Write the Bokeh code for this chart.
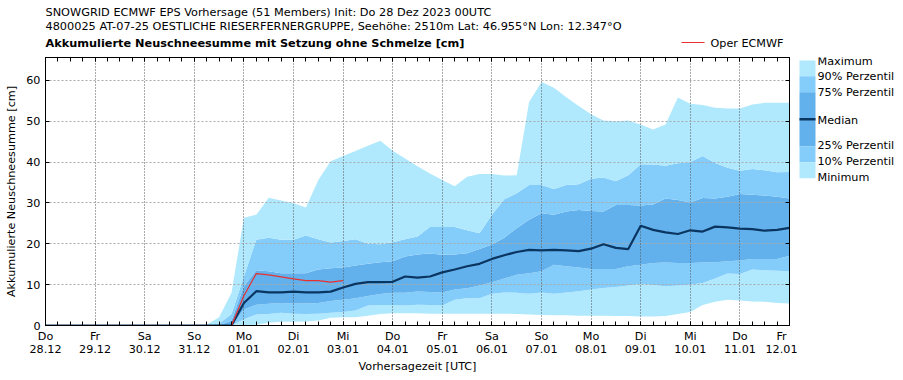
from bokeh.plotting import figure
from bokeh.layouts import column, row
from bokeh.models import (Range1d, FixedTicker, LinearAxis, Label, BoxAnnotation,
                          ColumnDataSource, CustomJSTickFormatter)
from bokeh.embed import file_html
from bokeh.resources import INLINE

# ---------------- data (6-hourly lead times, hours since 28.12. 00UTC) ----------------
hours = [6 * i for i in range(61)]

day_names = ["Do", "Fr", "Sa", "So", "Mo", "Di", "Mi", "Do", "Fr", "Sa", "So", "Mo", "Di", "Mi", "Do", "Fr"]
day_dates = ["28.12", "29.12", "30.12", "31.12", "01.01", "02.01", "03.01", "04.01",
             "05.01", "06.01", "07.01", "08.01", "09.01", "10.01", "11.01", "12.01"]
y_ticks = [0, 10, 20, 30, 40, 50, 60]

maximum = [0, 0, 0, 0,  0, 0, 0, 0,  0, 0, 0, 0,
           0, 0.2, 2.0, 8.0,
           26.4, 27.1, 31.3, 30.6,
           29.9, 28.9, 35.6, 40.2,
           41.5, 42.7, 44.0, 45.2,
           42.8, 40.9, 39.0, 37.2,
           35.6, 34.1, 36.4, 37.1,
           37.1, 36.7, 36.8, 54.7,
           59.6, 58.2, 55.9, 53.7,
           51.7, 50.2, 50.0, 50.2,
           49.2, 48.0, 49.2, 55.8,
           54.3, 54.0, 53.3, 53.1,
           53.1, 54.1, 54.5, 54.5,
           54.5]
p90 = [0, 0, 0, 0,  0, 0, 0, 0,  0, 0, 0, 0,
       0, 0, 0.5, 2.8,
       12.0, 21.0, 21.5, 21.0,
       21.0, 22.0, 21.1, 20.3,
       20.7, 21.1, 20.0, 19.9,
       20.4, 21.1, 21.8, 24.1,
       24.1, 24.1, 23.3, 22.6,
       27.1, 30.9, 32.4, 34.4,
       34.4, 33.4, 34.4, 34.6,
       35.9, 36.2, 35.3, 36.8,
       39.5, 39.4, 39.1, 39.7,
       40.0, 41.5, 39.8, 38.6,
       37.9, 38.3, 38.0, 37.5,
       37.6]
p75 = [0, 0, 0, 0,  0, 0, 0, 0,  0, 0, 0, 0,
       0, 0, 0, 1.2,
       9.6, 13.5, 13.3, 12.8,
       12.8, 12.8, 13.7, 14.0,
       14.2, 14.7, 15.1, 15.5,
       15.7, 16.9, 17.4, 17.6,
       17.3, 17.4, 17.7, 18.7,
       19.8, 21.5, 23.8, 25.9,
       27.5, 27.1, 27.9, 28.3,
       28.0, 27.9, 29.5, 29.5,
       29.4, 29.6, 31.1, 30.7,
       30.1, 31.2, 31.1, 31.5,
       32.2, 32.0, 31.8, 31.5,
       31.1]
median = [0, 0, 0, 0,  0, 0, 0, 0,  0, 0, 0, 0,
          0, 0, 0, 0,
          5.5, 8.4, 8.1, 8.1,
          8.3, 8.1, 8.1, 8.3,
          9.3, 10.2, 10.6, 10.6,
          10.7, 12.0, 11.7, 12.0,
          13.0, 13.7, 14.5, 15.1,
          16.3, 17.2, 18.0, 18.5,
          18.4, 18.5, 18.4, 18.2,
          18.8, 19.9, 19.0, 18.7,
          24.4, 23.4, 22.8, 22.4,
          23.3, 23.0, 24.2, 24.0,
          23.7, 23.6, 23.2, 23.4,
          23.9]
p25 = [0, 0, 0, 0,  0, 0, 0, 0,  0, 0, 0, 0,
       0, 0, 0, 0,
       3.9, 5.1, 5.3, 5.5,
       5.4, 5.4, 5.5, 6.0,
       6.3, 6.7, 7.2, 7.7,
       8.0, 8.0, 8.3, 8.2,
       8.1, 8.8, 9.1, 9.8,
       10.6, 11.5, 12.4, 12.8,
       13.3, 14.9, 14.5, 14.2,
       13.8, 13.8, 13.8, 14.5,
       14.9, 15.3, 15.4, 15.3,
       15.3, 15.4, 15.5, 15.7,
       15.9, 16.3, 16.3, 16.3,
       17.1]
p10 = [0, 0, 0, 0,  0, 0, 0, 0,  0, 0, 0, 0,
       0, 0, 0, 0,
       1.5, 2.7, 2.8, 3.1,
       2.9, 2.8, 2.9, 3.1,
       3.3, 3.7, 4.9, 5.0,
       5.0, 4.9, 5.1, 5.0,
       4.9, 6.3, 6.7, 6.7,
       7.8, 8.1, 8.0, 7.8,
       8.1, 7.8, 8.1, 8.4,
       8.8, 9.2, 9.4, 9.8,
       10.2, 9.9, 9.6, 9.8,
       10.0, 10.4, 11.5, 12.7,
       12.6, 13.7, 13.5, 13.4,
       13.3]
minimum = [0, 0, 0, 0,  0, 0, 0, 0,  0, 0, 0, 0,
           0, 0, 0, 0,
           0, 0.2, 0.7, 0.9,
           0.9, 1.0, 1.2, 1.9,
           2.0, 2.0, 2.4, 2.8,
           3.0, 3.0, 3.0, 2.9,
           2.9, 2.9, 2.9, 2.9,
           2.9, 2.9, 2.8, 2.7,
           2.6, 2.5, 2.5, 2.4,
           2.4, 2.4, 2.3, 2.3,
           2.2, 2.2, 2.3, 2.8,
           3.3, 5.0, 5.8, 6.3,
           6.1, 5.9, 5.8, 5.5,
           5.4]
oper_hours = hours[:25]
oper = [0, 0, 0, 0,  0, 0, 0, 0,  0, 0, 0, 0,
        0, 0, 0, 0,
        7.3, 12.7, 12.4, 11.9,
        11.4, 11.0, 11.0, 10.6,
        11.0]

title1 = "SNOWGRID ECMWF EPS Vorhersage (51 Members) Init: Do 28 Dez 2023 00UTC"
title2 = "4800025 AT-07-25 OESTLICHE RIESERFERNERGRUPPE, Seehöhe: 2510m Lat: 46.955°N Lon: 12.347°O"
title3 = "Akkumulierte Neuschneesumme mit Setzung ohne Schmelze [cm]"
legend_labels = ["Maximum", "90% Perzentil", "75% Perzentil", "Median",
                 "25% Perzentil", "10% Perzentil", "Minimum"]

# ---------------- styling ----------------
C_MAX = "#b0e9fd"
C_90 = "#84cdfb"
C_75 = "#62b1ec"
C_MED = "#0b3561"
C_OPER = "#e8312f"
FONT = "DejaVu Sans"
FS = "11.2px"
FS_TITLE = "11.3px"

W, H = 903, 380
HEAD_H = 49
MAIN_W = 797
BORDER_TOP, BORDER_BOTTOM = 8, 55


def blank_fig(w, h, top=0, bottom=0):
    f = figure(width=w, height=h, output_backend="svg", toolbar_location=None,
               x_axis_location=None, y_axis_location=None,
               min_border_left=0, min_border_right=0, min_border_top=top, min_border_bottom=bottom,
               x_range=Range1d(0, 1), y_range=Range1d(0, 1))
    f.grid.visible = False
    f.outline_line_color = None
    f.background_fill_color = "white"
    f.border_fill_color = "white"
    return f


def lab(f, text, sx, sy, **kw):
    opts = dict(text_font=FONT, text_font_size=FS, text_color="black", text_baseline="middle")
    opts.update(kw)
    f.add_layout(Label(x=sx, y=sy, x_units="screen", y_units="screen", text=text, **opts))


def box(f, l, r, t, b, col):
    f.add_layout(BoxAnnotation(left=l, right=r, top=t, bottom=b,
                               left_units="screen", right_units="screen",
                               top_units="screen", bottom_units="screen",
                               fill_color=col, fill_alpha=1.0, line_color=None))


# ---------------- header (titles + oper legend) ----------------
header = blank_fig(W, HEAD_H)
lab(header, title1, 45, 37, text_font_size=FS_TITLE)
lab(header, title2, 45, 23, text_font_size=FS_TITLE)
lab(header, title3, 45, 6, text_font_size=FS_TITLE, text_font_style="bold")
box(header, 681, 704, 7.6, 6.4, C_OPER)
lab(header, "Oper ECMWF", 710, 6)

# ---------------- main plot ----------------
src = ColumnDataSource(dict(h=hours, mn=minimum, p10=p10, p25=p25, med=median,
                            p75=p75, p90=p90, mx=maximum))
osrc = ColumnDataSource(dict(h=oper_hours, v=oper))

p = figure(width=MAIN_W, height=H - HEAD_H, output_backend="svg", toolbar_location=None,
           x_range=Range1d(0, 360), y_range=Range1d(0, 65.6),
           min_border_left=45, min_border_right=8,
           min_border_top=BORDER_TOP, min_border_bottom=BORDER_BOTTOM)
p.background_fill_color = "white"
p.border_fill_color = "white"
p.outline_line_color = "black"
p.outline_line_alpha = 1.0

bands = [("mn", "p10", C_MAX), ("p10", "p25", C_90), ("p25", "p75", C_75),
         ("p75", "p90", C_90), ("p90", "mx", C_MAX)]
for lo, hi, col in bands:
    r = p.varea(x="h", y1=lo, y2=hi, source=src, fill_color=col, fill_alpha=1.0)
    r.level = "image"

p.line(x="h", y="med", source=src, line_color=C_MED, line_width=2.2)
p.line(x="h", y="v", source=osrc, line_color=C_OPER, line_width=1.2)

xt = FixedTicker(ticks=list(range(0, 361, 24)), minor_ticks=list(range(0, 361, 6)))
yt = FixedTicker(ticks=y_ticks, minor_ticks=[])

bottom_ax = p.below[0]
left_ax = p.left[0]
bottom_ax.ticker = xt
left_ax.ticker = yt
bottom_ax.major_label_overrides = {24 * i: f"{d}\n{dt}" for i, (d, dt) in enumerate(zip(day_names, day_dates))}
bottom_ax.major_label_text_line_height = 1.0

empty = CustomJSTickFormatter(code="return ''")
top_ax = LinearAxis(ticker=xt, formatter=empty)
right_ax = LinearAxis(ticker=yt, formatter=empty)
p.add_layout(top_ax, "above")
p.add_layout(right_ax, "right")

for ax in [bottom_ax, left_ax, top_ax, right_ax]:
    ax.major_tick_in = 4
    ax.major_tick_out = 0
    ax.minor_tick_in = 4
    ax.minor_tick_out = 0
    ax.axis_line_color = "black"
    ax.major_tick_line_color = "black"
    ax.minor_tick_line_color = "black"
    ax.major_label_text_font = FONT
    ax.major_label_text_font_size = FS
    ax.major_label_text_color = "black"
    ax.major_label_standoff = 5
    ax.axis_label_text_font = FONT
    ax.axis_label_text_font_size = FS
    ax.axis_label_text_font_style = "normal"
    ax.axis_label_text_color = "black"
bottom_ax.major_label_standoff = 4
top_ax.major_label_standoff = 0
right_ax.major_label_standoff = 0

left_ax.axis_label = "Akkumulierte Neuschneesumme [cm]"
left_ax.axis_label_standoff = 5
bottom_ax.axis_label = "Vorhersagezeit [UTC]"
bottom_ax.axis_label_standoff = 1

p.xgrid.grid_line_color = "#555555"
p.xgrid.grid_line_dash = "1 2"
p.ygrid.grid_line_color = "#aaaaaa"
p.ygrid.grid_line_dash = "2 2"

# ---------------- percentile legend (right side), frame aligned with main frame ----------------
leg = blank_fig(W - MAIN_W, H - HEAD_H, top=BORDER_TOP, bottom=BORDER_BOTTOM)
box(leg, 2, 18, 265, 249.3, C_MAX)
box(leg, 2, 18, 249.3, 233.3, C_90)
box(leg, 2, 18, 233.3, 179, C_75)
box(leg, 2, 18, 207.5, 205, C_MED)
box(leg, 2, 18, 179, 163.3, C_90)
box(leg, 2, 18, 163.3, 147.3, C_MAX)
for text, sy in zip(legend_labels, [263.8, 249.3, 233, 205, 179.7, 164, 148.3]):
    lab(leg, text, 20, sy)

layout = column(header, row(p, leg, spacing=0), spacing=0)
open("out.html", "w").write(file_html(layout, INLINE))
